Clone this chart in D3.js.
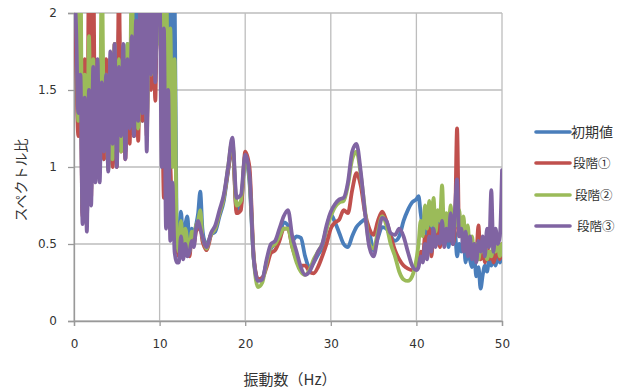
<!DOCTYPE html>
<html>
<head>
<meta charset="utf-8">
<script src="https://cdn.jsdelivr.net/npm/d3@7"></script>
<style>
  body { margin: 0; background: #fff; }
  svg text { fill: #333; }
</style>
</head>
<body>
<svg id="chart" width="622" height="390"></svg>
<script>
// frequency grid (Hz)
const freq = [
  0, 0.25, 0.5, 0.75, 1, 1.25, 1.5, 1.75, 2, 2.25, 2.5, 2.75, 3, 3.25, 3.5, 3.75,
  4, 4.25, 4.5, 4.75, 5, 5.25, 5.5, 5.75, 6, 6.25, 6.5, 6.75, 7, 7.25, 7.5, 7.75,
  8, 8.25, 8.5, 8.75, 9, 9.25, 9.5, 9.75, 10, 10.25, 10.5, 10.75, 11, 11.25, 11.5, 11.75, 12,
  12.25, 12.5, 12.75, 13, 13.25, 13.5, 13.75, 14, 14.25, 14.5, 14.75, 15, 15.25, 15.5, 15.75, 16,
  16.5, 17, 17.5, 18, 18.5, 19, 19.5, 20, 20.5, 21, 21.5, 22, 22.5, 23, 23.5, 24,
  24.5, 25, 25.5, 26, 26.5, 27, 27.5, 28, 28.5, 29, 29.5, 30, 30.5, 31, 31.5, 32,
  32.5, 33, 33.5, 34, 34.5, 35, 35.5, 36, 36.5, 37, 37.5, 38, 38.5, 39, 39.5, 40,
  40.25, 40.5, 40.75, 41, 41.25, 41.5, 41.75, 42, 42.25, 42.5, 42.75, 43, 43.25, 43.5, 43.75, 44,
  44.25, 44.5, 44.75, 45, 45.25, 45.5, 45.75, 46, 46.25, 46.5, 46.75, 47, 47.25, 47.5, 47.75, 48,
  48.25, 48.5, 48.75, 49, 49.25, 49.5, 49.75, 50
];

// 初期値
const initial = [
  2.4, 1.8, 1.25, 1.7, 0.7, 1.5, 0.65, 1.6, 0.85, 1.8, 0.95, 1.6, 1.0, 1.7, 1.05, 1.55,
  1.05, 1.7, 1.1, 1.75, 1.1, 1.9, 1.15, 1.7, 1.1, 1.8, 1.25, 1.9, 1.2, 2.1, 1.35, 1.95,
  1.3, 2.0, 1.25, 2.1, 1.55, 2.3, 1.6, 2.4, 2.0, 2.3, 1.6, 2.4, 1.5, 2.3, 1.3, 2.2, 0.5,
  0.45, 0.71, 0.5, 0.62, 0.68, 0.48, 0.6, 0.55, 0.62, 0.7, 0.84, 0.6, 0.52, 0.5, 0.52, 0.56,
  0.58, 0.68, 0.78, 0.97, 1.15, 0.72, 0.75, 1.06, 0.9, 0.4, 0.27, 0.28, 0.38, 0.47, 0.5, 0.55,
  0.64, 0.62, 0.52, 0.55, 0.54, 0.42, 0.35, 0.38, 0.43, 0.48, 0.6, 0.69, 0.64, 0.57, 0.5, 0.48,
  0.55, 0.61, 0.64, 0.66, 0.58, 0.46, 0.54, 0.61, 0.6, 0.55, 0.52, 0.55, 0.65, 0.72, 0.77, 0.79,
  0.81, 0.7, 0.62, 0.68, 0.55, 0.65, 0.5, 0.62, 0.55, 0.68, 0.5, 0.6, 0.55, 0.62, 0.48, 0.6,
  0.5, 0.58, 0.42, 0.5, 0.45, 0.55, 0.38, 0.45, 0.4, 0.35, 0.42, 0.29, 0.35, 0.21, 0.3, 0.36,
  0.32, 0.4, 0.36, 0.45, 0.36, 0.42, 0.38, 0.45
];

// 段階①
const stage1 = [
  2.2, 1.7, 1.2, 1.55, 0.68, 1.7, 0.62, 2.3, 0.8, 2.3, 0.95, 1.5, 0.97, 1.6, 1.05, 1.7,
  1.0, 1.6, 1.0, 1.8, 1.0, 2.2, 1.1, 1.75, 1.05, 1.7, 1.15, 1.8, 1.2, 1.85, 1.17, 1.85,
  1.3, 1.9, 1.2, 1.95, 1.5, 1.95, 1.43, 2.3, 1.9, 1.6, 0.8, 1.3, 0.87, 1.0, 0.6, 0.8, 0.48,
  0.42, 0.55, 0.45, 0.55, 0.5, 0.42, 0.55, 0.5, 0.58, 0.6, 0.62, 0.52, 0.48, 0.46, 0.5, 0.56,
  0.6, 0.7, 0.8, 0.98, 1.15, 0.7, 0.72, 1.1, 1.0, 0.42, 0.27, 0.28, 0.35, 0.44, 0.46, 0.52,
  0.6, 0.6, 0.48, 0.4, 0.36, 0.36, 0.32, 0.31, 0.35, 0.42, 0.5, 0.6, 0.64, 0.66, 0.72, 0.7,
  0.85, 0.96, 0.88, 0.7, 0.6, 0.56, 0.65, 0.71, 0.65, 0.55, 0.46, 0.4, 0.36, 0.34, 0.33, 0.35,
  0.38, 0.45, 0.4, 0.55, 0.45, 0.6, 0.42, 0.55, 0.5, 0.62, 0.48, 0.7, 0.5, 0.6, 0.55, 0.68,
  0.5, 0.6, 1.25, 0.55, 0.65, 0.5, 0.55, 0.45, 0.5, 0.42, 0.5, 0.45, 0.62, 0.4, 0.45, 0.38,
  0.5, 0.4, 0.45, 0.38, 0.42, 0.45, 0.4, 0.5
];

// 段階②
const stage2 = [
  2.3, 2.1, 1.3, 2.3, 0.75, 1.6, 0.8, 1.85, 0.9, 1.7, 1.0, 1.55, 1.05, 2.3, 1.3, 1.6,
  0.98, 1.7, 1.05, 1.8, 1.1, 1.7, 1.1, 1.75, 1.15, 1.8, 1.3, 2.3, 1.3, 1.9, 1.25, 1.85,
  1.4, 1.9, 1.3, 1.9, 1.6, 1.95, 1.7, 1.9, 1.8, 2.3, 1.5, 2.3, 1.4, 1.9, 1.0, 1.7, 0.55,
  0.45, 0.65, 0.45, 0.6, 0.52, 0.45, 0.58, 0.55, 0.62, 0.65, 0.72, 0.55, 0.5, 0.47, 0.52, 0.56,
  0.6, 0.7, 0.8, 1.0, 1.17, 0.75, 0.78, 1.07, 0.92, 0.4, 0.22, 0.25, 0.38, 0.48, 0.5, 0.55,
  0.6, 0.6, 0.48, 0.38, 0.32, 0.3, 0.33, 0.4, 0.45, 0.5, 0.6, 0.68, 0.74, 0.77, 0.78, 0.88,
  1.05, 1.1, 0.95, 0.72, 0.5, 0.47, 0.58, 0.68, 0.62, 0.5, 0.42, 0.32, 0.27, 0.26, 0.29, 0.4,
  0.5, 0.65, 0.55, 0.75, 0.6, 0.78, 0.62, 0.8, 0.58, 0.72, 0.65, 0.88, 0.55, 0.7, 0.6, 0.75,
  0.58, 0.7, 0.62, 0.72, 0.55, 0.68, 0.5, 0.62, 0.45, 0.55, 0.42, 0.5, 0.4, 0.48, 0.45, 0.52,
  0.4, 0.45, 0.42, 0.5, 0.45, 0.52, 0.42, 0.5
];

// 段階③
const stage3 = [
  2.3, 1.9, 1.35, 1.6, 0.63, 1.45, 0.58, 1.5, 0.75, 1.65, 0.9, 1.7, 0.9, 1.55, 1.1, 1.6,
  0.97, 1.75, 1.15, 1.8, 1.0, 1.65, 1.2, 1.8, 1.05, 1.7, 1.25, 1.85, 1.2, 1.95, 1.3, 2.1,
  1.35, 2.1, 1.1, 2.2, 1.6, 2.2, 1.55, 2.3, 2.2, 1.0, 1.9, 0.6, 1.5, 0.52, 0.9, 0.45, 0.38,
  0.38, 0.55, 0.4, 0.5, 0.42, 0.45, 0.52, 0.48, 0.6, 0.65, 0.6, 0.55, 0.5, 0.48, 0.52, 0.57,
  0.62, 0.72, 0.82, 1.0, 1.19, 0.8, 0.82, 1.08, 0.95, 0.4, 0.26, 0.27, 0.4, 0.5, 0.52, 0.6,
  0.68, 0.72, 0.55, 0.45, 0.35, 0.3, 0.32, 0.38, 0.45, 0.5, 0.62, 0.71, 0.76, 0.79, 0.8, 0.9,
  1.1, 1.15, 0.97, 0.7, 0.48, 0.42, 0.55, 0.67, 0.65, 0.57, 0.56, 0.6, 0.55, 0.45, 0.36, 0.33,
  0.35, 0.42, 0.38, 0.5, 0.4, 0.55, 0.45, 0.6, 0.48, 0.55, 0.5, 0.65, 0.48, 0.6, 0.52, 0.7,
  0.5, 0.72, 0.92, 0.55, 0.6, 0.45, 0.58, 0.42, 0.55, 0.4, 0.5, 0.38, 0.52, 0.45, 0.55, 0.42,
  0.6, 0.48, 0.85, 0.45, 0.6, 0.5, 0.55, 0.98
];

const seriesNames = ["初期値", "段階①", "段階②", "段階③"];
const seriesValues = [initial, stage1, stage2, stage3];
const seriesColors = ["#4a7ebb", "#c0504d", "#9bbb59", "#8064a2"];

const xTicks = [0, 10, 20, 30, 40, 50];
const yTicks = [0, 0.5, 1, 1.5, 2];

const margin = { left: 74, right: 120, top: 13, bottom: 69 };
const width = 622, height = 390;

const svg = d3.select("#chart");

const x = d3.scaleLinear().domain([0, 50]).range([margin.left, width - margin.right]);
const y = d3.scaleLinear().domain([0, 2]).range([height - margin.bottom, margin.top]);

// clip so the spikes above 2 are cut at the plot top
svg.append("defs").append("clipPath").attr("id", "plot-clip")
  .append("rect")
  .attr("x", x(0)).attr("y", y(2))
  .attr("width", x(50) - x(0)).attr("height", y(0) - y(2));

// grid
const grid = svg.append("g").attr("stroke", "#bdbdbd").attr("stroke-width", 1.3);
grid.selectAll(".gy").data(yTicks).enter().append("line")
  .attr("x1", x(0)).attr("x2", x(50))
  .attr("y1", (d) => y(d)).attr("y2", (d) => y(d));
grid.selectAll(".gx").data(xTicks).enter().append("line")
  .attr("x1", (d) => x(d)).attr("x2", (d) => x(d))
  .attr("y1", y(0)).attr("y2", y(2));

// axes
const xAxis = svg.append("g")
  .attr("transform", `translate(0,${y(0)})`)
  .call(d3.axisBottom(x).tickValues(xTicks).tickSize(5).tickPadding(13).tickFormat(d3.format("")));
const yAxis = svg.append("g")
  .attr("transform", `translate(${x(0)},0)`)
  .call(d3.axisLeft(y).tickValues(yTicks).tickSize(6).tickPadding(11).tickFormat(d3.format("")));

[xAxis, yAxis].forEach((g) => {
  g.select(".domain").attr("stroke", "#999").attr("stroke-width", 1.3);
  g.selectAll(".tick line").attr("stroke", "#999").attr("stroke-width", 1.3);
  g.selectAll(".tick text")
    .attr("font-family", "'DejaVu Sans', sans-serif")
    .attr("font-size", 12)
    .attr("fill", "#333");
});

// lines
const line = d3.line()
  .x((d) => x(d[0]))
  .y((d) => y(d[1]))
  .curve(d3.curveMonotoneX);

const plot = svg.append("g").attr("clip-path", "url(#plot-clip)");
seriesValues.forEach((vals, i) => {
  const pts = freq.map((f, j) => [f, vals[j]]).filter((p) => p[1] != null);
  plot.append("path")
    .attr("d", line(pts))
    .attr("fill", "none")
    .attr("stroke", seriesColors[i])
    .attr("stroke-width", 3.8)
    .attr("stroke-linejoin", "round")
    .attr("stroke-linecap", "round");
});

// axis titles
svg.append("text")
  .attr("x", 290).attr("y", 385)
  .attr("text-anchor", "middle")
  .attr("font-family", "'Noto Sans CJK JP', sans-serif")
  .attr("font-size", 15)
  .text("振動数（Hz）");

svg.append("text")
  .attr("transform", "translate(26,180) rotate(-90)")
  .attr("text-anchor", "middle")
  .attr("font-family", "'Noto Sans CJK JP', sans-serif")
  .attr("font-size", 14)
  .text("スペクトル比");

// legend
const legendY = [132, 163, 195, 226];
const legendTextX = [571, 573, 575, 577];
const legend = svg.append("g");
seriesNames.forEach((name, i) => {
  legend.append("line")
    .attr("x1", 536).attr("x2", 570)
    .attr("y1", legendY[i]).attr("y2", legendY[i])
    .attr("stroke", seriesColors[i])
    .attr("stroke-width", 3.6)
    .attr("stroke-linecap", "round");
  legend.append("text")
    .attr("x", legendTextX[i]).attr("y", legendY[i])
    .attr("dy", "0.36em")
    .attr("font-family", "'Noto Sans CJK JP', sans-serif")
    .attr("font-size", i === 0 ? 14 : 12.5)
    .text(name);
});
</script>
</body>
</html>
